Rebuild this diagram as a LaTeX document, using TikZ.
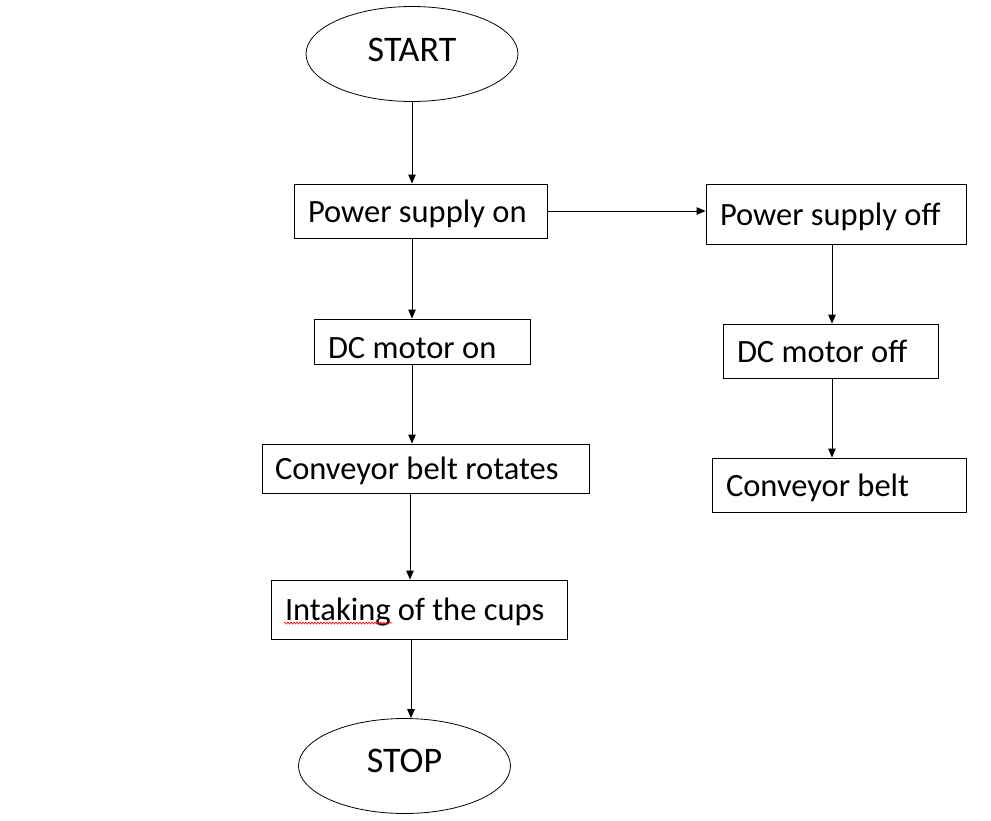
\documentclass[tikz,border=0pt]{standalone}
\usepackage{fontspec}
\setmainfont{Carlito}
\usetikzlibrary{arrows.meta,shapes.geometric,decorations.pathmorphing}
\newcommand{\bx}[3][0pt]{\makebox[#2][l]{\raisebox{\dimexpr-8pt+#1\relax}{#3}}}
\begin{document}
\begin{tikzpicture}[x=1pt,y=-1pt,
  box/.style={draw=black,line width=0.9pt,rectangle,inner xsep=14pt,inner ysep=0pt,
    font=\fontsize{32.5}{38}\selectfont,text height=0.75em,text depth=0.12em},
  term/.style={draw=black,line width=0.8pt,ellipse,minimum width=212pt,minimum height=95pt,
    inner sep=0pt,font=\fontsize{36}{42}\selectfont},
  conn/.style={draw=black,line width=0.9pt,-{Triangle[length=9pt,width=7.5pt]}}]
\useasboundingbox (0,0) rectangle (991,820);
\fill[white] (0,0) rectangle (991,820);
\node[term] (start) at (412,54) {\raisebox{8pt}{START}};
\node[box,minimum height=54pt] (pon) at (420.5,211) {\bx{225pt}{Power supply on}};
\node[box,minimum height=60pt] (poff) at (836,214) {\bx{232pt}{Power supply off}};
\node[box,minimum height=45pt] (dcon) at (422,341.5) {\bx[-6pt]{188pt}{DC motor on}};
\node[box,minimum height=54pt] (dcoff) at (830.5,351) {\bx{187pt}{DC motor off}};
\node[box,minimum height=49pt,inner xsep=13pt] (cbr) at (425.5,468.5) {\bx{301pt}{Conveyor belt rotates}};
\node[box,minimum height=54pt] (cb) at (839,485) {\bx{226pt}{Conveyor belt}};
\node[box,minimum height=59pt] (intake) at (419,609.5) {\bx{268pt}{Intaking of the cups}};
\node[term] (stop) at (404.5,766) {\raisebox{10pt}{STOP}};
\coordinate (sq1) at (284,623);
\coordinate (sq2) at (392,623);
\draw[red,line width=0.6pt,decorate,decoration={snake,amplitude=1pt,segment length=3pt}] (sq1) -- (sq2);
\draw[conn] (start.south) -- (start.south |- pon.north);
\draw[conn] (start.south |- pon.south) -- (start.south |- dcon.north);
\draw[conn] (start.south |- dcon.south) -- (start.south |- cbr.north);
\draw[conn] ([xshift=-2pt]start.south |- cbr.south) -- ([xshift=-2pt]start.south |- intake.north);
\draw[conn] ([xshift=-1pt]start.south |- intake.south) -- ([xshift=-1pt]start.south |- stop.north);
\draw[conn] (pon.east) -- (poff.west |- pon.east);
\draw[conn] ([xshift=-4pt]poff.south) -- ([xshift=-4pt]poff.south |- dcoff.north);
\draw[conn] ([xshift=-4pt]poff.south |- dcoff.south) -- ([xshift=-4pt]poff.south |- cb.north);
\end{tikzpicture}
\end{document}
